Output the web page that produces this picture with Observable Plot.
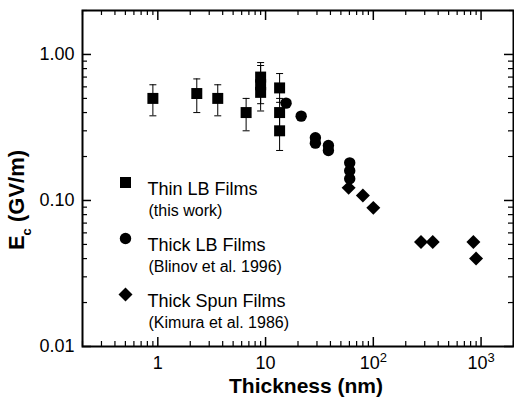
<!DOCTYPE html>
<html><head><meta charset="utf-8">
<script src="https://cdn.jsdelivr.net/npm/d3@7"></script>
<script src="https://cdn.jsdelivr.net/npm/@observablehq/plot@0.6"></script>
<style>body{margin:0;background:#fff}</style>
</head><body><div id="chart"></div>
<script>
// Thin LB films (this work), with error bars
const thinX  = [0.9, 2.3, 3.6, 6.6, 9, 9, 9, 13.5, 13.5, 13.5];
const thinY  = [0.50, 0.54, 0.50, 0.40, 0.70, 0.62, 0.55, 0.59, 0.40, 0.30];
const thinHi = [0.62, 0.68, 0.62, 0.50, 0.88, 0.84, 0.70, 0.74, 0.50, 0.38];
const thinLo = [0.38, 0.40, 0.38, 0.30, 0.56, 0.46, 0.41, 0.47, 0.30, 0.22];
// Thick LB films (Blinov et al. 1996)
const thickLBX = [15.5, 21.4, 29, 29, 38.3, 38.3, 60.4, 60.4, 60.4];
const thickLBY = [0.464, 0.378, 0.269, 0.247, 0.238, 0.220, 0.181, 0.160, 0.141];
// Thick spun films (Kimura et al. 1986)
const spunX = [59, 80, 100, 277, 356, 849, 899];
const spunY = [0.122, 0.108, 0.089, 0.052, 0.052, 0.052, 0.040];

// axis ticks
const xTicks = [1, 10, 100, 1000];
const xTickLabels = ["1", "10", "10^2", "10^3"];
const xMinor = [0.2,0.3,0.4,0.5,0.6,0.7,0.8,0.9, 2,3,4,5,6,7,8,9, 20,30,40,50,60,70,80,90, 200,300,400,500,600,700,800,900, 2000];
const yTicks = [0.01, 0.1, 1];
const yTickLabels = ["0.01", "0.10", "1.00"];
const yMinor = [0.02,0.03,0.04,0.05,0.06,0.07,0.08,0.09, 0.2,0.3,0.4,0.5,0.6,0.7,0.8,0.9, 2];

const xLabel = "Thickness (nm)";
const yLabel = "E_c (GV/m)";
const legendLabels = ["Thin LB Films", "Thick LB Films", "Thick Spun Films"];
const legendNotes = ["(this work)", "(Blinov et al. 1996)", "(Kimura et al. 1986)"];
const legendSymbols = ["square", "circle", "diamond2"];

const thin = thinX.map((x, i) => ({x, y: thinY[i], lo: thinLo[i], hi: thinHi[i]}));
const thickLB = thickLBX.map((x, i) => ({x, y: thickLBY[i]}));
const spun = spunX.map((x, i) => ({x, y: spunY[i]}));
const xMap = new Map(xTicks.map((d, i) => [d, xTickLabels[i]]));
const yMap = new Map(yTicks.map((d, i) => [d, yTickLabels[i]]));

const W = 514, H = 407, mL = 82, mR = 1, mT = 10, mB = 61;
const iw = W - mL - mR, ih = H - mT - mB;
const cap = {draw(ctx) { ctx.moveTo(-3.5, 0); ctx.lineTo(3.5, 0); }};
const symR = {square: 6.2, circle: 5.7, diamond2: 6.3};

const legendMarks = [];
legendLabels.forEach((lab, i) => {
  legendMarks.push(
    Plot.dot([0], {frameAnchor: "top-left", dx: 43, dy: 172 + 56 * i, symbol: legendSymbols[i], r: symR[legendSymbols[i]], fill: "black", stroke: "none"}),
    Plot.text([lab], {text: d => d, frameAnchor: "top-left", dx: 65, dy: 172 + 56 * i, textAnchor: "start", fontSize: 18, fill: "black"}),
    Plot.text([legendNotes[i]], {text: d => d, frameAnchor: "top-left", dx: 66, dy: 194 + 56 * i, textAnchor: "start", fontSize: 16, fill: "black"})
  );
});

const chart = Plot.plot({
  width: W, height: H,
  marginLeft: mL, marginRight: mR, marginTop: mT, marginBottom: mB,
  style: {fontFamily: "'Liberation Sans', Arial, sans-serif", background: "white", color: "black"},
  x: {type: "log", domain: [0.2, 2000], axis: null},
  y: {type: "log", domain: [0.01, 2], axis: null},
  marks: [
    // inward ticks on four sides
    Plot.tickX(xTicks, {x: d => d, insetTop: ih - 9, strokeWidth: 1.5}),
    Plot.tickX(xTicks, {x: d => d, insetBottom: ih - 10, strokeWidth: 1.5}),
    Plot.tickX(xMinor, {x: d => d, insetTop: ih - 5, strokeWidth: 1.2}),
    Plot.tickX(xMinor, {x: d => d, insetBottom: ih - 5, strokeWidth: 1.2}),
    Plot.tickY(yTicks, {y: d => d, insetRight: iw - 9, strokeWidth: 1.5}),
    Plot.tickY(yTicks, {y: d => d, insetLeft: iw - 9, strokeWidth: 1.5}),
    Plot.tickY(yMinor, {y: d => d, insetRight: iw - 5, strokeWidth: 1.2}),
    Plot.tickY(yMinor, {y: d => d, insetLeft: iw - 5, strokeWidth: 1.2}),
    Plot.frame({stroke: "black", strokeWidth: 2}),
    Plot.axisX(xTicks, {tickFormat: d => xMap.get(d), tickSize: 0, tickPadding: 10, fontSize: 18, label: null}),
    Plot.axisY(yTicks, {tickFormat: d => yMap.get(d), tickSize: 0, tickPadding: 8, fontSize: 18, label: null}),
    Plot.text([xLabel], {text: d => d, frameAnchor: "bottom", dx: 8, dy: 46, fontSize: 21, fontWeight: "bold", fill: "black"}),
    Plot.text([yLabel], {text: d => d, frameAnchor: "left", rotate: -90, textAnchor: "middle", fontSize: 22, fontWeight: "bold", fill: "black"}),
    // error bars
    Plot.ruleX(thin, {x: "x", y1: "lo", y2: "hi", stroke: "black", strokeWidth: 1}),
    Plot.dot(thin, {x: "x", y: "lo", symbol: cap, stroke: "black", fill: "none", strokeWidth: 1}),
    Plot.dot(thin, {x: "x", y: "hi", symbol: cap, stroke: "black", fill: "none", strokeWidth: 1}),
    Plot.dot(thin, {x: "x", y: "y", symbol: "square", r: symR.square, fill: "black", stroke: "none"}),
    Plot.dot(thickLB, {x: "x", y: "y", symbol: "circle", r: symR.circle, fill: "black", stroke: "none"}),
    Plot.dot(spun, {x: "x", y: "y", symbol: "diamond2", r: symR.diamond2, fill: "black", stroke: "none"}),
    ...legendMarks
  ]
});
document.getElementById("chart").appendChild(chart);

// superscripts / subscripts as tspans
const NS = "http://www.w3.org/2000/svg";
chart.querySelectorAll("text").forEach(t => {
  const s = t.textContent;
  if (s.includes("^")) {
    const [base, sup] = s.split("^");
    t.textContent = "";
    const a = document.createElementNS(NS, "tspan"); a.textContent = base;
    const b = document.createElementNS(NS, "tspan"); b.textContent = sup;
    b.setAttribute("dy", "-7"); b.setAttribute("font-size", "13");
    t.append(a, b);
  } else if (s.includes("_")) {
    const [base, rest] = s.split("_");
    t.textContent = "";
    const a = document.createElementNS(NS, "tspan"); a.textContent = base;
    const b = document.createElementNS(NS, "tspan"); b.textContent = rest[0];
    b.setAttribute("dy", "8"); b.setAttribute("font-size", "13");
    const c = document.createElementNS(NS, "tspan"); c.textContent = rest.slice(1);
    c.setAttribute("dy", "-8");
    t.append(a, b, c);
    // place the rotated axis title by measuring it (layout only)
    const g = document.createElementNS(NS, "g");
    t.parentNode.insertBefore(g, t);
    g.appendChild(t);
    const r = t.getBoundingClientRect(), sv = chart.getBoundingClientRect();
    const cx = r.left + r.width / 2 - sv.left, cy = r.top + r.height / 2 - sv.top;
    g.setAttribute("transform", `translate(${19 - cx},${200 - cy})`);
  }
});
</script>
</body></html>
